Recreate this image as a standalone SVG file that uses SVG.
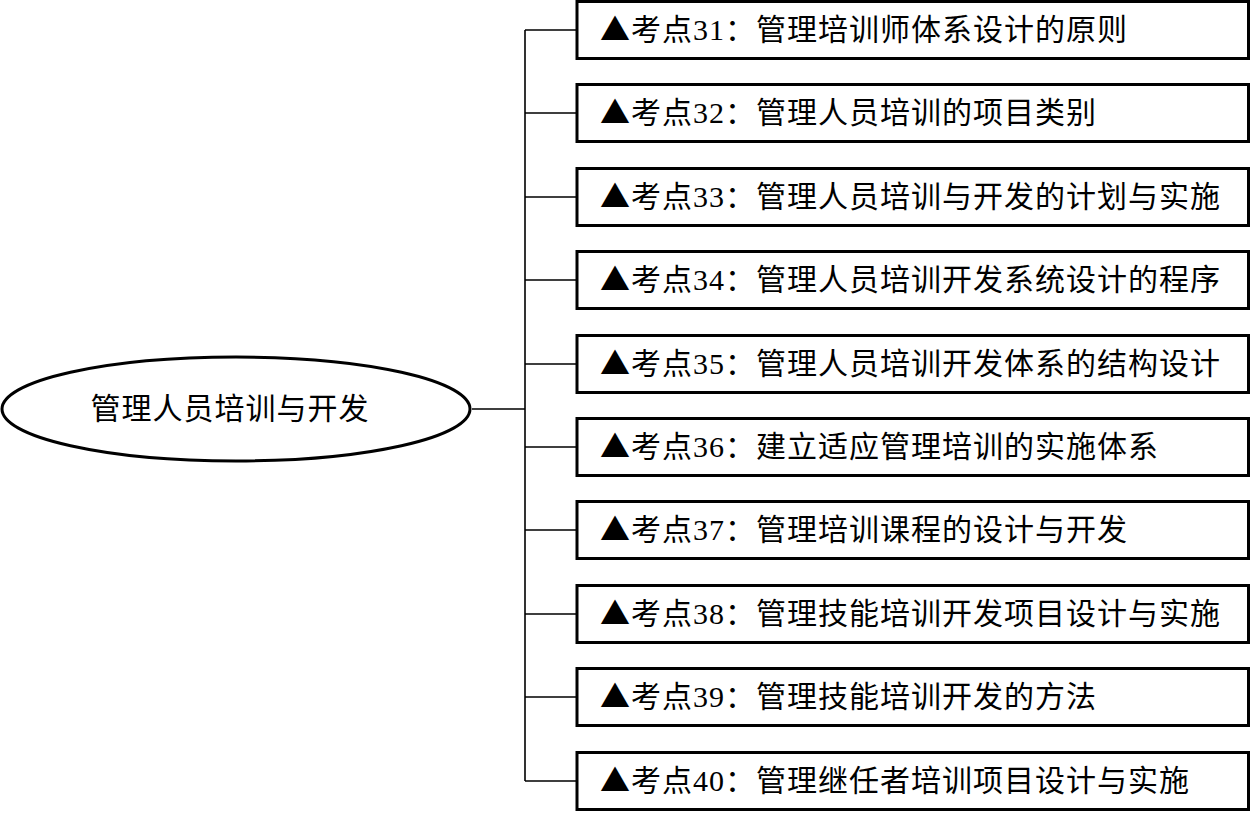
<svg xmlns="http://www.w3.org/2000/svg" width="1251" height="813" viewBox="0 0 1251 813">
<style>
.box{fill:#fff;stroke:#000;stroke-width:3}
.t{font-family:"Liberation Serif","Noto Sans CJK SC",serif;font-size:30px;letter-spacing:1px;fill:#000}
.tri{font-family:"Noto Sans CJK SC",sans-serif;letter-spacing:1px}
.c{fill:none;stroke:#000;stroke-width:1.6}
</style>
<rect width="1251" height="813" fill="#fff"/>
<g id="connectors">
<path class="c" d="M472,409 H525 M525,30 V781"/>
<path class="c" d="M525,30 H577 M525,113 H577 M525,197 H577 M525,280 H577 M525,364 H577 M525,447 H577 M525,530 H577 M525,614 H577 M525,697 H577 M525,781 H577"/>
</g>
<g id="root">
<ellipse cx="236" cy="409" rx="234" ry="52" fill="#fff" stroke="#000" stroke-width="3"/>
<text class="t" x="230" y="419" text-anchor="middle">管理人员培训与开发</text>
</g>
<g id="n31"><rect class="box" x="577" y="1.5" width="671.5" height="57"/><text class="t" x="600" y="40"><tspan class="tri">▲</tspan>考点31：管理培训师体系设计的原则</text></g>
<g id="n32"><rect class="box" x="577" y="84.5" width="671.5" height="57"/><text class="t" x="600" y="123"><tspan class="tri">▲</tspan>考点32：管理人员培训的项目类别</text></g>
<g id="n33"><rect class="box" x="577" y="168.5" width="671.5" height="57"/><text class="t" x="600" y="207"><tspan class="tri">▲</tspan>考点33：管理人员培训与开发的计划与实施</text></g>
<g id="n34"><rect class="box" x="577" y="251.5" width="671.5" height="57"/><text class="t" x="600" y="290"><tspan class="tri">▲</tspan>考点34：管理人员培训开发系统设计的程序</text></g>
<g id="n35"><rect class="box" x="577" y="335.5" width="671.5" height="57"/><text class="t" x="600" y="374"><tspan class="tri">▲</tspan>考点35：管理人员培训开发体系的结构设计</text></g>
<g id="n36"><rect class="box" x="577" y="418.5" width="671.5" height="57"/><text class="t" x="600" y="457"><tspan class="tri">▲</tspan>考点36：建立适应管理培训的实施体系</text></g>
<g id="n37"><rect class="box" x="577" y="501.5" width="671.5" height="57"/><text class="t" x="600" y="540"><tspan class="tri">▲</tspan>考点37：管理培训课程的设计与开发</text></g>
<g id="n38"><rect class="box" x="577" y="585.5" width="671.5" height="57"/><text class="t" x="600" y="624"><tspan class="tri">▲</tspan>考点38：管理技能培训开发项目设计与实施</text></g>
<g id="n39"><rect class="box" x="577" y="668.5" width="671.5" height="57"/><text class="t" x="600" y="707"><tspan class="tri">▲</tspan>考点39：管理技能培训开发的方法</text></g>
<g id="n40"><rect class="box" x="577" y="752.5" width="671.5" height="57"/><text class="t" x="600" y="791"><tspan class="tri">▲</tspan>考点40：管理继任者培训项目设计与实施</text></g>
</svg>
